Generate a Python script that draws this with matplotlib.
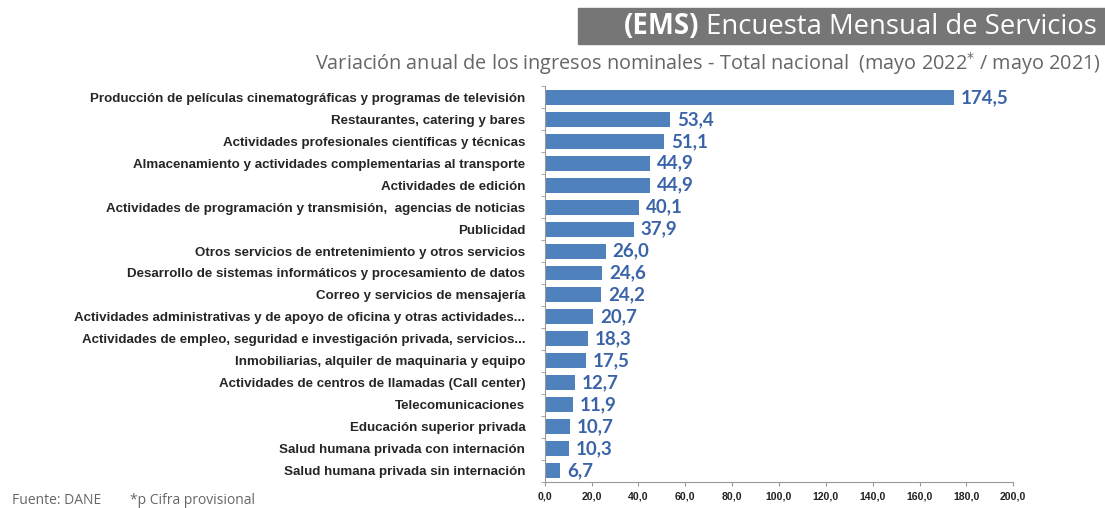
import matplotlib.pyplot as plt
import numpy as np
from matplotlib.patches import Rectangle

# data
categorias = [
    "Producción de películas cinematográficas y programas de televisión",
    "Restaurantes, catering y bares",
    "Actividades profesionales científicas y técnicas",
    "Almacenamiento y actividades complementarias al transporte",
    "Actividades de edición",
    "Actividades de programación y transmisión,  agencias de noticias",
    "Publicidad",
    "Otros servicios de entretenimiento y otros servicios",
    "Desarrollo de sistemas informáticos y procesamiento de datos",
    "Correo y servicios de mensajería",
    "Actividades administrativas y de apoyo de oficina y otras actividades...",
    "Actividades de empleo, seguridad e investigación privada, servicios...",
    "Inmobiliarias, alquiler de maquinaria y equipo",
    "Actividades de centros de llamadas (Call center)",
    "Telecomunicaciones",
    "Educación superior privada",
    "Salud humana privada con internación",
    "Salud humana privada sin internación",
]
variacion = [174.5, 53.4, 51.1, 44.9, 44.9, 40.1, 37.9, 26.0, 24.6, 24.2,
             20.7, 18.3, 17.5, 12.7, 11.9, 10.7, 10.3, 6.7]
xticks = [0, 20, 40, 60, 80, 100, 120, 140, 160, 180, 200]

bar_col = "#4F81BD"
lab_col = "#3B64A8"

fig = plt.figure(figsize=(11.05, 5.08), dpi=100)
ax = fig.add_axes([0.493, 0.052, 0.424, 0.778])

y = np.arange(len(categorias))
ax.barh(y, variacion, height=0.68, color=bar_col)
ax.set_ylim(len(categorias) - 0.5, -0.5)
ax.set_xlim(0, 200)

for yi, v in zip(y, variacion):
    ax.text(v + 3, yi, f"{v:.1f}".replace(".", ","), va="center", ha="left",
            fontsize=13.5, fontweight="bold", color=lab_col, family="Lato")

ax.set_yticks(y)
ax.set_yticklabels(categorias, fontsize=9.6, family="Liberation Sans",
                   fontweight="bold", color="#262626")
ax.set_xticks(xticks)
ax.set_xticklabels([f"{t:.1f}".replace(".", ",") for t in xticks], fontsize=7.6,
                   family="Liberation Sans", fontweight="bold", color="#222222")
ax.tick_params(axis="x", length=3, color="#999999", pad=4)
ax.set_yticks(np.arange(-0.5, len(categorias)), minor=True)
ax.tick_params(axis="y", which="minor", length=3, color="#999999")
ax.tick_params(axis="y", which="major", length=0, pad=14)
for s in ["top", "right"]:
    ax.spines[s].set_visible(False)
ax.spines["left"].set_color("#999999")
ax.spines["bottom"].set_color("#999999")

# header
fig.patches.append(Rectangle((578 / 1105, 1 - 44 / 508), 1 - 578 / 1105, 36 / 508,
                             transform=fig.transFigure, color="#767676", zorder=0))
t1 = fig.text(0.993, 1 - 27 / 508, " Encuesta Mensual de Servicios", ha="right", va="center",
              fontsize=19.8, color="white", family="Open Sans")
fig.canvas.draw()
bb = t1.get_window_extent().transformed(fig.transFigure.inverted())
fig.text(bb.x0, 1 - 27 / 508, "(EMS)", ha="right", va="center",
         fontsize=19.8, color="white", family="Open Sans", fontweight="bold")
fig.text(0.996, 1 - 64 / 508,
         "Variación anual de los ingresos nominales - Total nacional  (mayo 2022$^{*}$ / mayo 2021)",
         ha="right", va="center", fontsize=14.3, color="#666666", family="Open Sans")

fig.text(0.011, 1 - 500 / 508, "Fuente: DANE", ha="left", va="center",
         fontsize=10, color="#666666", family="Open Sans")
fig.text(0.118, 1 - 500 / 508, "*p Cifra provisional", ha="left", va="center",
         fontsize=10, color="#666666", family="Open Sans")

fig.savefig("out.png", dpi=100)
